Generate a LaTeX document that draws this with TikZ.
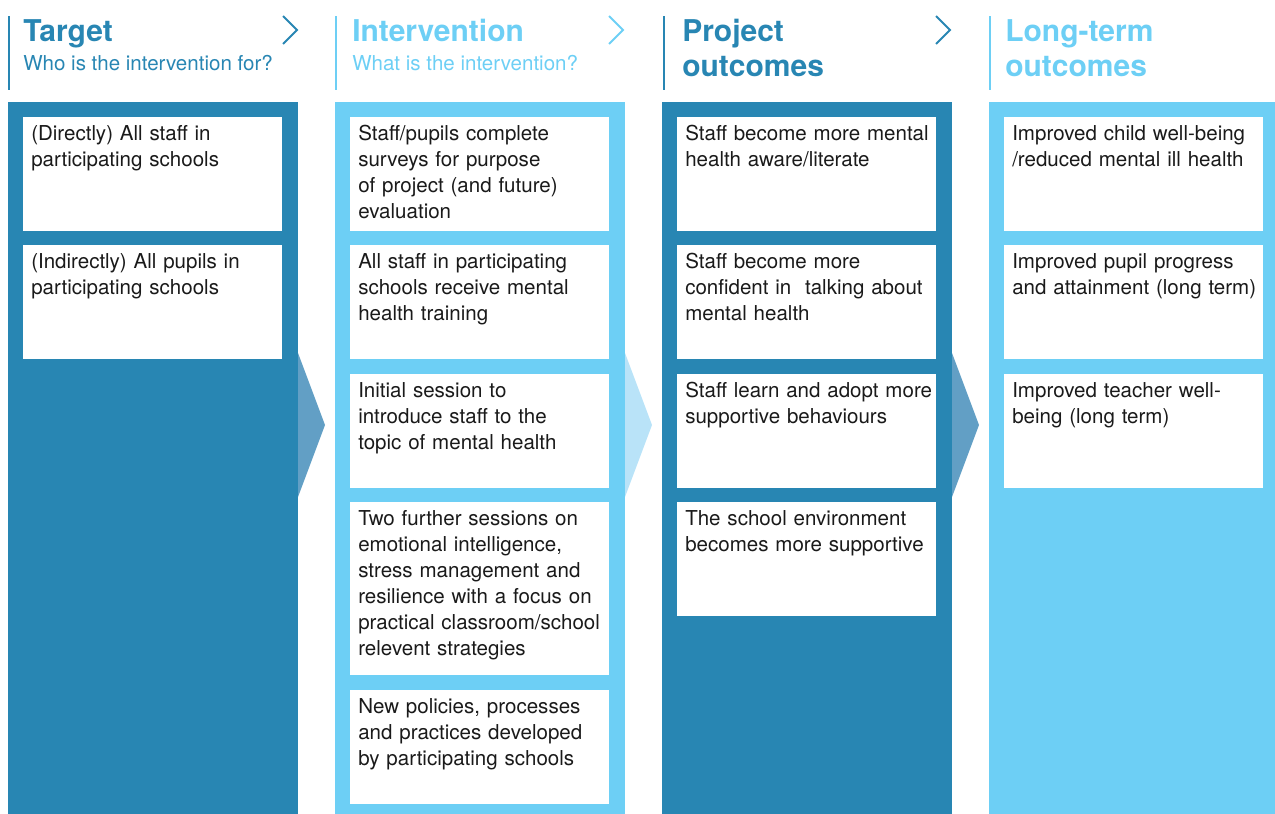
\documentclass[tikz,border=0pt]{standalone}
\usepackage{fontspec}
\setmainfont{TeX Gyre Heros}
\usetikzlibrary{positioning}
\definecolor{darkblue}{HTML}{2886B3}
\definecolor{lightblue}{HTML}{6DCFF5}
\definecolor{arrowdark}{HTML}{629FC5}
\definecolor{arrowlight}{HTML}{B9E3F8}
\definecolor{bodytext}{HTML}{1A1A1A}

\begin{document}
\begin{tikzpicture}[x=0.75pt,y=-0.75pt]

\def\px{0.75pt}
\tikzstyle{column} = [anchor=north west, inner sep=0, minimum width=290*\px, minimum height=712*\px]
\tikzstyle{cardnode} = [anchor=north west, fill=white, inner sep=0, minimum width=259*\px, minimum height=114*\px]
\tikzstyle{cardtext} = [anchor=north west, inner xsep=8*\px, inner ysep=6.25pt, text width=200pt, align=left, text height=11pt, text=bodytext, font=\fontsize{15.4}{19.5}\selectfont]
\tikzstyle{titlenode} = [anchor=north west, inner sep=0, text width=230pt, text height=17pt, align=left, font=\fontsize{22.5}{26.25}\selectfont\bfseries]
\tikzstyle{subtitlenode} = [anchor=base west, inner sep=0, font=\fontsize{15.4}{19.5}\selectfont]
\tikzstyle{headbar} = [line width=2.5*\px]
\tikzstyle{chevron} = [line width=2*\px]

\useasboundingbox (0,0) rectangle (1275,814);

% headers
\draw [headbar, darkblue] (9,16) -- (9,90);
\node [titlenode, text=darkblue] (tgthead) at (23,18.3) {Target};
\node [subtitlenode, text=darkblue] (tgtsub) at (23,70) {Who is the intervention for?};
\draw [chevron, darkblue] (283,16) -- (297,30) -- (283,44);

\draw [headbar, lightblue] (336,16) -- (336,90);
\node [titlenode, text=lightblue] (inthead) at (352,18.3) {Intervention};
\node [subtitlenode, text=lightblue] (intsub) at (352,70) {What is the intervention?};
\draw [chevron, lightblue] (609,16) -- (623,30) -- (609,44);

\draw [headbar, darkblue] (664,16) -- (664,90);
\node [titlenode, text=darkblue] (prjhead) at (682,18.3) {Project\\outcomes};
\draw [chevron, darkblue] (936,16) -- (950,30) -- (936,44);

\draw [headbar, lightblue] (990,16) -- (990,90);
\node [titlenode, text=lightblue] (lthead) at (1005,18.3) {Long-term\\outcomes};

% columns
\node [column, fill=darkblue] (tgtcol) at (8,102) {};
\node [column, fill=lightblue] (intcol) at (335,102) {};
\node [column, fill=darkblue] (prjcol) at (662,102) {};
\node [column, fill=lightblue, minimum width=286*\px] (ltcol) at (989,102) {};

% arrows between columns
\fill [arrowdark] (298,353) -- (325,425) -- (298,497) -- cycle;
\fill [arrowlight] (625,353) -- (652,425) -- (625,497) -- cycle;
\fill [arrowdark] (952,353) -- (979,425) -- (952,497) -- cycle;

% target
\node [cardnode] (tgt1) at (23,117) {};
\node [cardtext] (tgt1txt) at (tgt1.north west) {(Directly) All staff in\\participating schools};
\node [cardnode] (tgt2) at (23,245) {};
\node [cardtext] (tgt2txt) at (tgt2.north west) {(Indirectly) All pupils in\\participating schools};

% intervention
\node [cardnode] (int1) at (350,117) {};
\node [cardtext] (int1txt) at (int1.north west) {Staff/pupils complete\\surveys for purpose\\of project (and future)\\evaluation};
\node [cardnode] (int2) at (350,245) {};
\node [cardtext] (int2txt) at (int2.north west) {All staff in participating\\schools receive mental\\health training};
\node [cardnode] (int3) at (350,374) {};
\node [cardtext] (int3txt) at (int3.north west) {Initial session to\\introduce staff to the\\topic of mental health};
\node [cardnode, minimum height=173*\px] (int4) at (350,502) {};
\node [cardtext] (int4txt) at (int4.north west) {Two further sessions on\\emotional intelligence,\\stress management and\\resilience with a focus on\\practical classroom/school\\relevent strategies};
\node [cardnode] (int5) at (350,690) {};
\node [cardtext] (int5txt) at (int5.north west) {New policies, processes\\and practices developed\\by participating schools};

% project outcomes
\node [cardnode] (prj1) at (677,117) {};
\node [cardtext] (prj1txt) at (prj1.north west) {Staff become more mental\\health aware/literate};
\node [cardnode] (prj2) at (677,245) {};
\node [cardtext] (prj2txt) at (prj2.north west) {Staff become more\\confident in\ \ talking about\\mental health};
\node [cardnode] (prj3) at (677,374) {};
\node [cardtext] (prj3txt) at (prj3.north west) {Staff learn and adopt more\\supportive behaviours};
\node [cardnode] (prj4) at (677,502) {};
\node [cardtext] (prj4txt) at (prj4.north west) {The school environment\\becomes more supportive};

% long-term outcomes
\node [cardnode] (lt1) at (1004,117) {};
\node [cardtext] (lt1txt) at (lt1.north west) {Improved child well-being\\/reduced mental ill health};
\node [cardnode] (lt2) at (1004,245) {};
\node [cardtext] (lt2txt) at (lt2.north west) {Improved pupil progress\\and attainment (long term)};
\node [cardnode] (lt3) at (1004,374) {};
\node [cardtext] (lt3txt) at (lt3.north west) {Improved teacher well-\\being (long term)};

\end{tikzpicture}
\end{document}
